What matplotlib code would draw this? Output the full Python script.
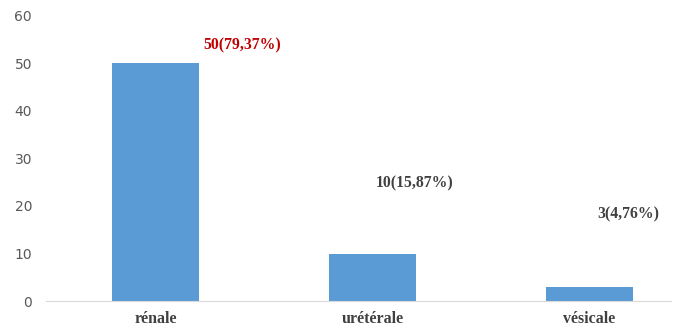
import matplotlib
matplotlib.use('Agg')
import matplotlib.pyplot as plt

# Data
categories = ['rénale', 'urétérale', 'vésicale']
counts = [50, 10, 3]
labels = ['50(79,37%)', '10(15,87%)', '3(4,76%)']
label_colors = ['#C00000', '#404040', '#404040']
# label placement (x offset from bar centre, y in data units)
label_dx = [0.22, 0.015, 0.035]
label_y = [53.9, 24.8, 18.3]

fig = plt.figure(figsize=(6.78, 3.28), dpi=100)
ax = fig.add_axes([0.0678, 0.0823, 0.922, 0.869])

x = range(len(categories))
ax.bar(x, counts, width=0.40, color='#5B9BD5', zorder=2)

for i in x:
    ax.text(i + label_dx[i], label_y[i], labels[i], color=label_colors[i],
            fontsize=11.3, fontweight='bold', family='Liberation Serif',
            ha='left', va='center')

ax.set_xlim(-0.505, 2.376)
ax.set_ylim(0, 60)
ax.set_yticks(range(0, 61, 10))
ax.set_xticks(list(x))
ax.set_xticklabels(categories, fontsize=11.5, fontweight='bold',
                   family='Liberation Serif', color='#404040')
ax.tick_params(axis='y', length=0, pad=10, labelsize=10, labelcolor='#595959')
ax.tick_params(axis='x', length=0, pad=7)
for s in ['top', 'right', 'left']:
    ax.spines[s].set_visible(False)
ax.spines['bottom'].set_color('#D9D9D9')

fig.savefig('out.png', dpi=100)
